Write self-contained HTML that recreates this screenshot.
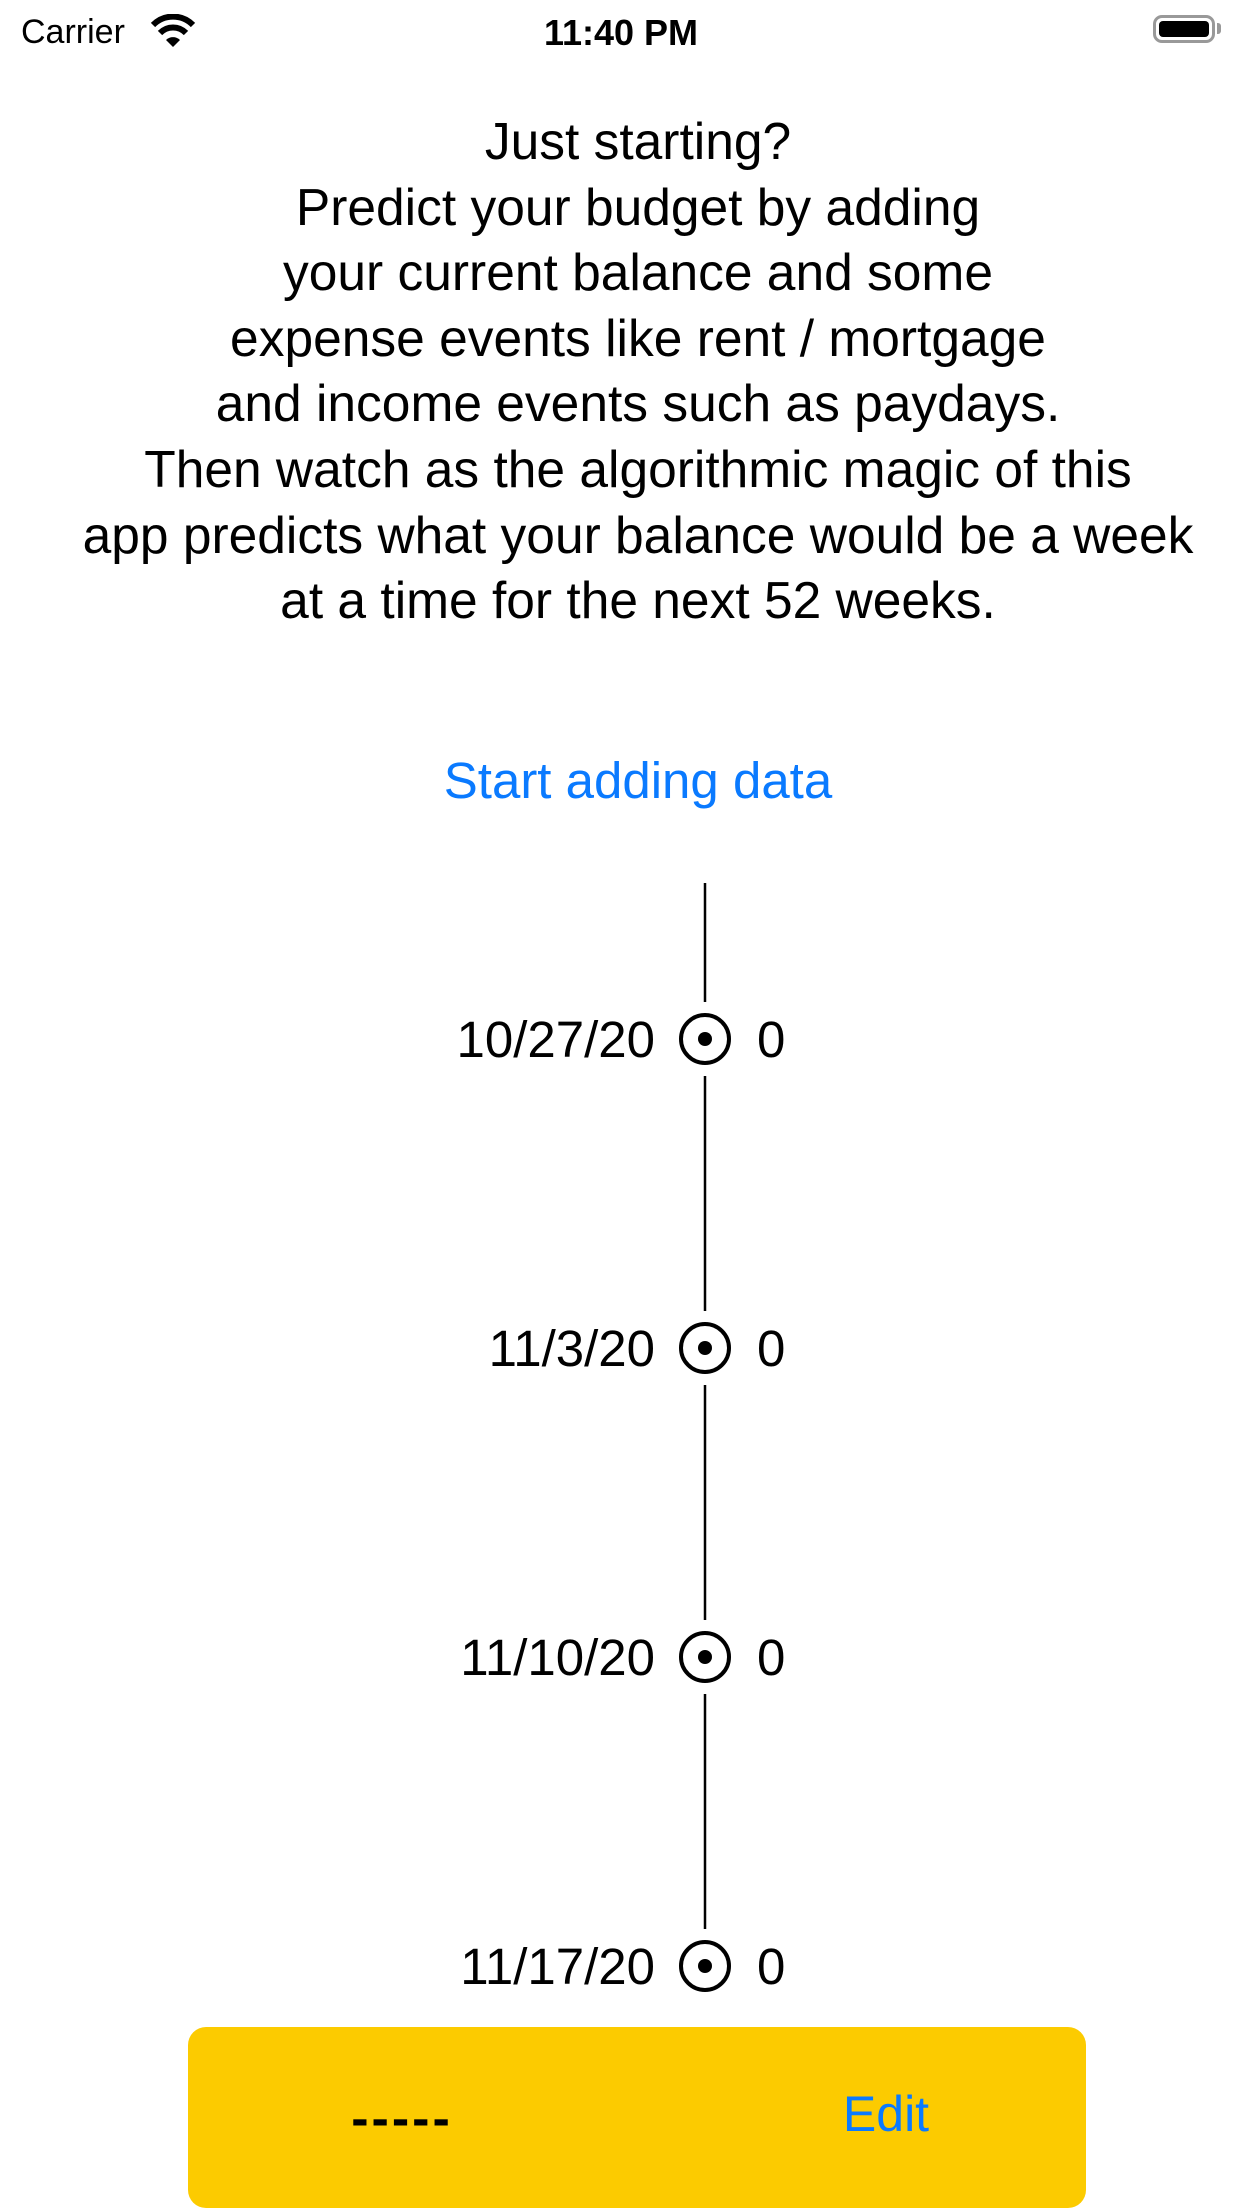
<!DOCTYPE html>
<html><head><meta charset="utf-8"><style>
html,body{margin:0;padding:0;background:#fff;}
body{width:1242px;height:2208px;position:relative;overflow:hidden;font-family:"Liberation Sans",sans-serif;color:#000;}
.abs{position:absolute;}
#intro{left:17px;width:1242px;top:109px;text-align:center;font-size:51.5px;line-height:65.6px;}
#start{left:17px;width:1242px;top:751px;text-align:center;font-size:51px;color:#0a7aff;}
#btn{left:188px;top:2027px;width:898px;height:181px;background:#fccb00;border-radius:18px;}
</style></head><body>
<div class="abs" style="left:0;top:0;width:1242px;height:60px;">
 <div class="abs" style="left:21px;top:13px;font-size:34px;">Carrier</div>
 <svg class="abs" style="left:150px;top:14px" width="46" height="36" viewBox="0 0 46 36">
  <path d="M3 11 A28 28 0 0 1 43 11" stroke="#000" stroke-width="6" fill="none"/>
  <path d="M10 19 A18 18 0 0 1 36 19" stroke="#000" stroke-width="6" fill="none"/>
  <path d="M16 26 L23 33 L30 26 A10 10 0 0 0 16 26 Z" fill="#000"/></svg>
 <div class="abs" style="left:0;width:1242px;text-align:center;top:12px;font-size:36px;font-weight:bold;">11:40 PM</div>
 <div class="abs" style="left:1153px;top:15px;width:62px;height:28px;border:3px solid #999;border-radius:9px;box-sizing:border-box;padding:3px;"><div style="width:100%;height:100%;background:#000;border-radius:4px"></div></div>
 <div class="abs" style="left:1217px;top:23px;width:4px;height:11px;background:#999;border-radius:0 3px 3px 0"></div>
</div>
<div class="abs" id="intro">Just starting?<br>Predict your budget by adding<br>your current balance and some<br>expense events like rent / mortgage<br>and income events such as paydays.<br>Then watch as the algorithmic magic of this<br>app predicts what your balance would be a week<br>at a time for the next 52 weeks.</div>
<div class="abs" id="start">Start adding data</div>
<svg class="abs" id="tl" style="left:0;top:0" width="1242" height="2208"></svg>
<div class="abs" id="btn">
 <div class="abs" style="left:0;width:428px;text-align:center;top:62px;font-size:52px;font-weight:bold;letter-spacing:3px;">-----</div>
 <div class="abs" style="left:598px;width:200px;text-align:center;top:58px;font-size:50px;color:#0a7aff;">Edit</div>
</div>
<script>
const dates=["10/27/20","11/3/20","11/10/20","11/17/20"];
const values=[0,0,0,0];
const cx=705,y0=1039,step=309,r=24,gap=37;
const svg=document.getElementById('tl');
const NS='http://www.w3.org/2000/svg';
function yOf(i){return y0+i*step;}
function seg(a,b){const l=document.createElementNS(NS,'line');


l.setAttribute('x1',cx);l.setAttribute('x2',cx);l.setAttribute('y1',a);l.setAttribute('y2',b);
l.setAttribute('stroke','#000');l.setAttribute('stroke-width','2.5');svg.appendChild(l);}
seg(883,yOf(0)-gap);
dates.forEach((d,i)=>{
 const y=yOf(i);
 if(i<dates.length-1) seg(y+gap,yOf(i+1)-gap);
 const c=document.createElementNS(NS,'circle');
 
 
 c.setAttribute('cx',cx);c.setAttribute('cy',y);c.setAttribute('r',r);c.setAttribute('fill','none');c.setAttribute('stroke','#000');c.setAttribute('stroke-width','4');svg.appendChild(c);
 const dot=document.createElementNS(NS,'circle');
 
 
 dot.setAttribute('cx',cx);dot.setAttribute('cy',y);dot.setAttribute('r',7);svg.appendChild(dot);
 const t=document.createElementNS(NS,'text');
 
 
 t.setAttribute('x',655);t.setAttribute('y',y+18);t.setAttribute('text-anchor','end');t.setAttribute('font-size','51');t.setAttribute('font-family','Liberation Sans, sans-serif');t.textContent=d;svg.appendChild(t);
 const v=document.createElementNS(NS,'text');
 
 
 v.setAttribute('x',757);v.setAttribute('y',y+18);v.setAttribute('font-size','51');v.setAttribute('font-family','Liberation Sans, sans-serif');v.textContent=values[i];svg.appendChild(v);
});
</script>
</body></html>
